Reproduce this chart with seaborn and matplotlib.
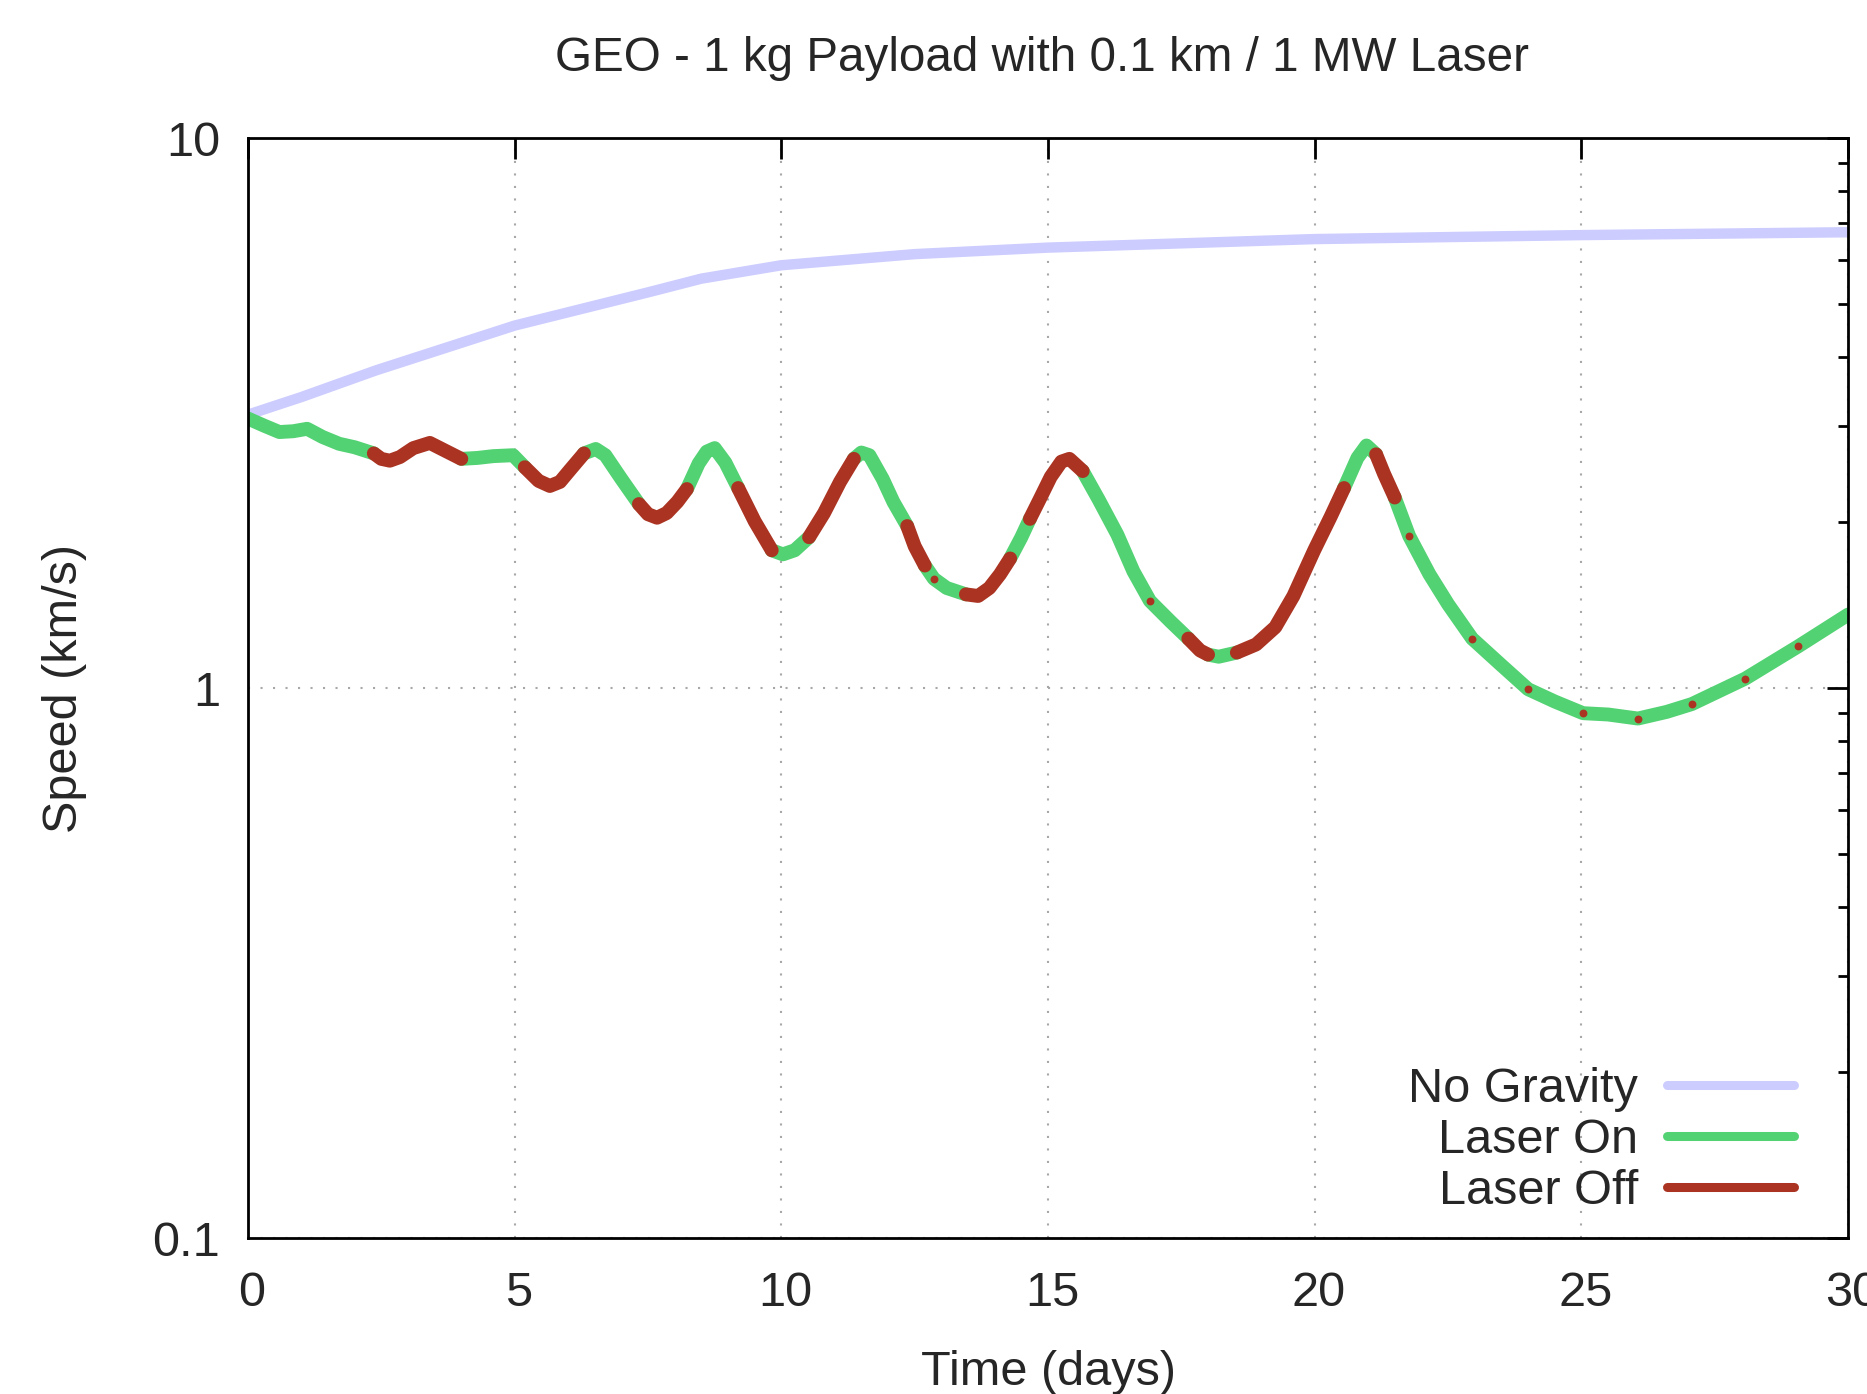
import numpy as np
import pandas as pd
import matplotlib
matplotlib.use("Agg")
import matplotlib.pyplot as plt
import seaborn as sns
from matplotlib.lines import Line2D
from matplotlib.ticker import LogLocator, NullFormatter
from matplotlib.transforms import ScaledTranslation

# --- data ---
# no-gravity reference trajectory
t_nograv = [0.0, 1.0, 2.4, 5.0, 7.5, 8.5, 10.0, 12.5, 15.0, 20.0, 25.0, 30.0]
v_nograv = [3.14, 3.38, 3.78, 4.56, 5.24, 5.55, 5.87, 6.15, 6.32, 6.55, 6.66, 6.74]

# main trajectory; laser_on[i] is the state of the piece from point i to point i+1
t_main = [0.00, 0.30, 0.59, 0.85, 1.11, 1.40, 1.71, 2.00, 2.36, 2.50,
          2.66, 2.85, 3.10, 3.41, 3.70, 4.00, 4.30, 4.60, 4.97, 5.19,
          5.45, 5.66, 5.85, 6.05, 6.30, 6.52, 6.70, 7.00, 7.33, 7.50,
          7.67, 7.85, 8.05, 8.23, 8.45, 8.60, 8.75, 8.95, 9.19, 9.50,
          9.82, 10.03, 10.25, 10.52, 10.80, 11.10, 11.36, 11.50, 11.65, 11.90,
          12.10, 12.36, 12.50, 12.69, 12.86, 13.10, 13.46, 13.69, 13.90, 14.10,
          14.29, 14.50, 14.66, 14.85, 15.05, 15.25, 15.40, 15.65, 15.95, 16.30,
          16.60, 16.91, 17.30, 17.63, 17.85, 18.00, 18.20, 18.54, 18.90, 19.26,
          19.60, 19.99, 20.30, 20.55, 20.80, 20.97, 21.15, 21.30, 21.50, 21.77,
          22.15, 22.50, 22.95, 23.50, 24.00, 24.50, 25.03, 25.50, 26.06, 26.60,
          27.07, 28.07, 29.06, 30.00]
v_main = [3.09, 3.00, 2.92, 2.93, 2.96, 2.86, 2.78, 2.74, 2.67, 2.61,
          2.59, 2.63, 2.73, 2.79, 2.70, 2.61, 2.62, 2.64, 2.65, 2.52,
          2.38, 2.33, 2.37, 2.50, 2.67, 2.72, 2.65, 2.40, 2.16, 2.07,
          2.04, 2.08, 2.18, 2.30, 2.56, 2.69, 2.73, 2.57, 2.31, 2.01,
          1.78, 1.75, 1.78, 1.88, 2.08, 2.37, 2.61, 2.68, 2.65, 2.40,
          2.18, 1.97, 1.81, 1.67, 1.58, 1.52, 1.48, 1.47, 1.52, 1.61,
          1.72, 1.88, 2.03, 2.21, 2.42, 2.58, 2.61, 2.48, 2.20, 1.90,
          1.63, 1.44, 1.32, 1.23, 1.17, 1.15, 1.14, 1.16, 1.20, 1.29,
          1.47, 1.78, 2.05, 2.31, 2.62, 2.76, 2.66, 2.45, 2.22, 1.89,
          1.61, 1.42, 1.23, 1.10, 0.995, 0.945, 0.90, 0.895, 0.88, 0.905,
          0.935, 1.04, 1.19, 1.36]
laser_on = [1, 1, 1, 1, 1, 1, 1, 1, 0, 0,
            0, 0, 0, 0, 0, 1, 1, 1, 1, 0,
            0, 0, 0, 0, 1, 1, 1, 1, 0, 0,
            0, 0, 0, 1, 1, 1, 1, 1, 0, 0,
            1, 1, 1, 0, 0, 0, 1, 1, 1, 1,
            1, 0, 0, 1, 1, 1, 0, 0, 0, 0,
            1, 1, 0, 0, 0, 0, 0, 1, 1, 1,
            1, 1, 1, 0, 0, 1, 1, 0, 0, 0,
            0, 0, 0, 1, 1, 1, 0, 0, 1, 1,
            1, 1, 1, 1, 1, 1, 1, 1, 1, 1,
            1, 1, 1, 1]

# very short "laser off" blips on the green curve
blip_t = [12.86, 16.91, 21.77, 22.95, 24.00, 25.03, 26.06, 27.07, 28.07, 29.06]
blip_v = [1.58, 1.44, 1.89, 1.23, 0.995, 0.90, 0.88, 0.935, 1.04, 1.19]

c_nograv = "#ccccff"
c_on = "#52d273"
c_off = "#aa3322"

# split main curve into runs of constant laser state
rows = []
start = 0
run = 0
n = len(t_main)
for i in range(1, n):
    if i == n - 1 or laser_on[i] != laser_on[start]:
        state = "Laser On" if laser_on[start] else "Laser Off"
        for j in range(start, i + 1):
            rows.append({"t": t_main[j], "v": v_main[j], "run": run, "state": state})
        run += 1
        start = i
df_main = pd.DataFrame(rows)
df_ng = pd.DataFrame({"t": t_nograv, "v": v_nograv})

sns.set_style("white")
plt.rcParams["font.family"] = ["Liberation Sans", "DejaVu Sans"]
fs = 35

fig = plt.figure(figsize=(18.67, 13.94), dpi=100)
ax = fig.add_axes([0.1328, 0.1119, 0.8571, 0.7891])

sns.lineplot(data=df_ng, x="t", y="v", color=c_nograv, linewidth=7.5, ax=ax,
             solid_capstyle="butt")
sns.lineplot(data=df_main, x="t", y="v", hue="state", units="run",
             estimator=None, sort=False, legend=False, linewidth=10, ax=ax,
             palette={"Laser On": c_on, "Laser Off": c_off},
             solid_capstyle="round", solid_joinstyle="round")
ax.scatter(blip_t, blip_v, s=32, color=c_off, linewidths=0, zorder=5)

ax.set_yscale("log")
ax.set_xlim(0, 30)
ax.set_ylim(0.1, 10)
ax.set_xticks([0, 5, 10, 15, 20, 25, 30])
ax.set_yticks([0.1, 1, 10], ["0.1", "1", "10"])
ax.yaxis.set_minor_locator(LogLocator(base=10, subs=np.arange(2, 10)))
ax.yaxis.set_minor_formatter(NullFormatter())

ax.tick_params(which="major", direction="in", length=15, width=2,
               top=True, right=True, labelsize=fs, pad=24, color="black")
ax.tick_params(axis="y", which="major", pad=20)
ax.tick_params(which="minor", direction="in", length=7.5, width=2,
               top=False, right=True, color="black")
for s in ax.spines.values():
    s.set_linewidth(2)
    s.set_color("black")
for lbl in ax.get_xticklabels():
    lbl.set_transform(lbl.get_transform() + ScaledTranslation(0.04, 0, fig.dpi_scale_trans))

ax.grid(True, which="major", color="#a8a8a8", lw=1.5, linestyle=(0, (1, 5)))

ax.set_xlabel("Time (days)", fontsize=fs, labelpad=24)
ax.set_ylabel("Speed (km/s)", fontsize=fs, labelpad=47)
ax.set_title("GEO - 1 kg Payload with 0.1 km / 1 MW Laser", fontsize=34.3, pad=48, x=0.496)

handles = [Line2D([], [], color=c_nograv, lw=6.5),
           Line2D([], [], color=c_on, lw=6.5),
           Line2D([], [], color=c_off, lw=6.5)]
ax.legend(handles, ["No Gravity", "Laser On", "Laser Off"], loc="lower right",
          bbox_to_anchor=(0.966, 0.022), frameon=False, markerfirst=False,
          fontsize=fs, handlelength=2.6, handletextpad=0.6, labelspacing=0.12,
          borderpad=0, borderaxespad=0)

fig.savefig("out.png", dpi=100)
